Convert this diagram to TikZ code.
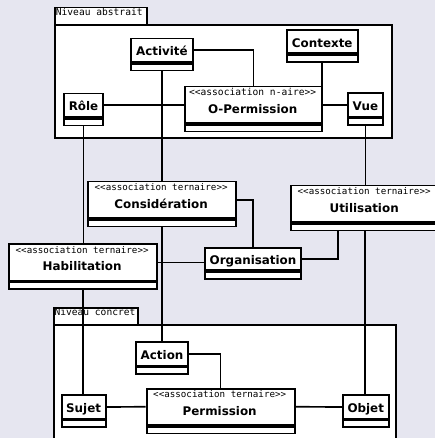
\documentclass[tikz,border=0pt]{standalone}
\usepackage{fontspec}
\setsansfont{DejaVu Sans}
\setmonofont{DejaVu Sans Mono}
\definecolor{canvas}{RGB}{230,230,240}

\tikzset{
  x=1pt, y=-1pt,
  wire/.style={line width=1.7pt},
  pkgbox/.style={draw, fill=white, line width=1.8pt, inner sep=0pt, anchor=north west},
  pkglabel/.style={anchor=base west, inner sep=0pt, font=\ttfamily\fontsize{9.6}{11}\selectfont},
  namebox/.style={draw, fill=white, line width=1.8pt, inner sep=0pt, anchor=north west,
    font=\sffamily\bfseries\fontsize{11.9}{14}\selectfont, text height=11.2pt, text depth=0pt},
  restbox/.style={draw, fill=white, line width=1.8pt, inner sep=0pt, anchor=north west,
    minimum height=6.7pt},
  stereo/.style={anchor=base, inner sep=0pt, font=\ttfamily\fontsize{9.2}{11}\selectfont},
  widestereo/.style={stereo, font=\ttfamily\fontsize{9.6}{11}\selectfont},
  assocname/.style={anchor=base, inner sep=0pt, font=\sffamily\bfseries\fontsize{11.9}{14}\selectfont}
}

% plain class: id, left, top, right, name
\newcommand\plainclass[5]{%
  \node[namebox, minimum width={(#4-#2)*1pt}, minimum height=23.5pt] (#1) at (#2,#3) {#5};
  \node[restbox, minimum width={(#4-#2)*1pt}] (#1C) at (#1.south west) {};}

% association class: id, left, top, right, stereotype style, stereotype, name
\newcommand\assocclass[7]{%
  \node[namebox, minimum width={(#4-#2)*1pt}, minimum height=36.4pt] (#1) at (#2,#3) {};
  \node[restbox, minimum width={(#4-#2)*1pt}] (#1C) at (#1.south west) {};
  \node[#5] (#1S) at ({(#2+#4)/2},{#3+10}) {#6};
  \node[assocname] (#1N) at ({(#2+#4)/2},{#3+27.6}) {#7};}

\begin{document}
\begin{tikzpicture}
  \fill[canvas] (0,0) rectangle (435,438);
  \useasboundingbox (0,0) rectangle (435,438);
  \clip (0,0) rectangle (435,438);

  % packages
  \node[pkgbox, minimum width=91.7pt, minimum height=17.3pt] (absTab) at (54,6.7) {};
  \node[pkgbox, minimum width=336.7pt, minimum height=113.3pt] (absBody) at (54,24) {};
  \node[pkglabel] (absLbl) at (55.7,15.7) {Niveau abstrait};

  \node[pkgbox, minimum width=84.3pt, minimum height=17.3pt] (conTab) at (53,306.7) {};
  \node[pkgbox, minimum width=342pt, minimum height=150pt] (conBody) at (53,324) {};
  \node[pkglabel] (conLbl) at (54.3,315.7) {Niveau concret};

  % abstract level
  \plainclass{act}{130}{37.7}{192}{Activité}
  \plainclass{ctx}{286}{29}{356.7}{Contexte}
  \plainclass{role}{63.3}{92.7}{102}{Rôle}
  \plainclass{vue}{347.3}{92.3}{381.7}{Vue}
  \assocclass{operm}{184.3}{85.7}{321}{widestereo}{<<association n-aire>>}{O-Permission}

  % links between the levels
  \assocclass{consid}{87.3}{180.7}{235}{stereo}{<<association ternaire>>}{Considération}
  \assocclass{util}{290.3}{184.7}{438}{stereo}{<<association ternaire>>}{Utilisation}
  \assocclass{habil}{8.3}{243.3}{156}{stereo}{<<association ternaire>>}{Habilitation}
  \node[namebox, minimum width=96.3pt, minimum height=22.6pt] (orga) at (204,246.7) {Organisation};
  \node[restbox, minimum width=96.3pt] (orgaC) at (orga.south west) {};

  % concrete level
  \plainclass{action}{135}{341.3}{187.3}{Action}
  \assocclass{perm}{145.7}{387.7}{293.7}{stereo}{<<association ternaire>>}{Permission}
  \plainclass{sujet}{60.7}{394.3}{104.7}{Sujet}
  \plainclass{objet}{342}{394.3}{387.7}{Objet}

  % connectors
  \draw[wire] (act.east) -| (operm.north);
  \draw[wire] (ctxC.south) -- (ctxC.south |- operm.north);
  \draw[wire] (role.east) -- (role.east -| operm.west);
  \draw[wire] (operm.east) -- (operm.east -| vue.west);

  \draw[wire] (actC.south) -- (actC.south |- consid.north);
  \draw[wire] (considC.south) -- (considC.south |- action.north);
  \draw[wire] (roleC.south) -- (roleC.south |- habil.north);
  \draw[wire] (habilC.south) -- (habilC.south |- sujet.north);
  \draw[wire] (vueC.south) -- (vueC.south |- util.north);
  \draw[wire] (utilC.south) -- (utilC.south |- objet.north);

  \draw[wire] (habil.east) -- (habil.east -| orga.west);
  \draw[wire] (consid.east) -| (orga.north);
  \draw[wire] (orga.east) -| ([xshift=-27.2pt]utilC.south);

  \draw[wire] (action.east) -| (perm.north);
  \draw[wire] (sujet.east) -- (perm.west);
  \draw[wire] (perm.east) -- (objet.west);
\end{tikzpicture}
\end{document}
